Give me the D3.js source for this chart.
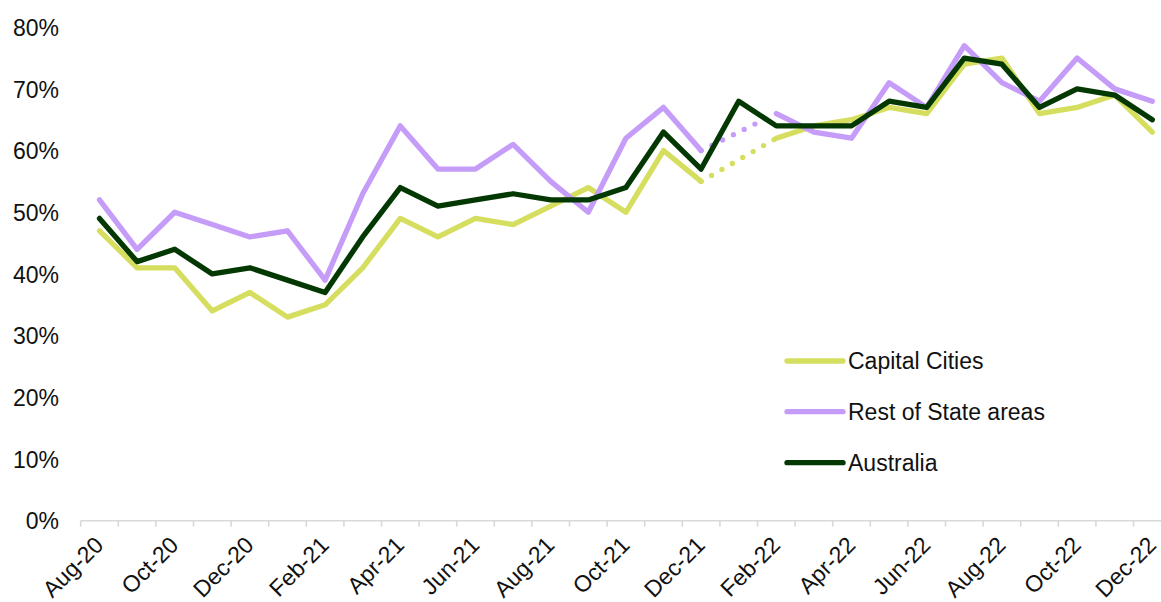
<!DOCTYPE html>
<html>
<head>
<meta charset="utf-8">
<script src="https://cdn.jsdelivr.net/npm/d3@7"></script>
<style>
  html, body { margin: 0; padding: 0; background: #fff; }
  svg { display: block; font-family: "Liberation Sans", Arial, sans-serif; }
</style>
</head>
<body>
<svg id="chart" width="1161" height="602"></svg>
<script>
// Monthly categories, Aug-20 to Dec-22
const months = ["Aug-20","Sep-20","Oct-20","Nov-20","Dec-20","Jan-21","Feb-21","Mar-21","Apr-21","May-21",
  "Jun-21","Jul-21","Aug-21","Sep-21","Oct-21","Nov-21","Dec-21","Jan-22","Feb-22","Mar-22",
  "Apr-22","May-22","Jun-22","Jul-22","Aug-22","Sep-22","Oct-22","Nov-22","Dec-22"];

// Shares in percent; null = no reading for that month
const capitalCities = [47,41,41,34,37,33,35,41,49,46,49,48,51,54,50,60,55,null,62,64,65,67,66,74,75,66,67,69,63];
const restOfState   = [52,44,50,48,46,47,39,53,64,57,57,61,55,50,62,67,60,null,66,63,62,71,67,77,71,68,75,70,68];
const australia     = [49,42,44,40,41,39,37,46,54,51,52,53,52,52,54,63,57,68,64,64,64,68,67,75,74,67,70,69,65];

const yTicks = [0,10,20,30,40,50,60,70,80];
const labelledMonths = months.filter((m, i) => i % 2 === 0);

const seriesNames  = ["Capital Cities", "Rest of State areas", "Australia"];
const seriesColors = ["#D5DE5E", "#C69CF9", "#033803"];

const series = [capitalCities, restOfState, australia].map((vals, i) => ({
  name: seriesNames[i],
  color: seriesColors[i],
  values: vals.map((v, j) => ({ month: months[j], value: v }))
}));

const svg = d3.select("#chart");
const FONT = 23;
const LINE_W = 5.3;

const x = d3.scaleBand().domain(months).range([80.7, 80.7 + 29 * 37.6]).padding(0);
const cx = m => x(m) + x.bandwidth() / 2;
const y = d3.scaleLinear().domain([0, 80]).range([520.7, 27.2]);

// Y axis: labels only
const yAxis = d3.axisLeft(y).tickValues(yTicks).tickSize(0).tickPadding(0)
  .tickFormat(d => d + "%");
svg.append("g")
  .attr("transform", "translate(59,0)")
  .call(yAxis)
  .call(g => g.select(".domain").remove())
  .call(g => g.selectAll("text")
    .attr("font-size", FONT)
    .attr("font-family", "Liberation Sans, Arial, sans-serif")
    .attr("fill", "#111")
    .attr("dy", "0.36em"));

// X axis line with boundary ticks between months
const xAxisG = svg.append("g");
const [x0, x1] = x.range();
xAxisG.append("line")
  .attr("x1", x0).attr("x2", x1)
  .attr("y1", y(0)).attr("y2", y(0))
  .attr("stroke", "#D9D9D9").attr("stroke-width", 1.6);
const boundaries = months.map(m => x(m)).concat([x1]);
xAxisG.selectAll("line.tick")
  .data(boundaries)
  .join("line")
  .attr("class", "tick")
  .attr("x1", d => d).attr("x2", d => d)
  .attr("y1", y(0)).attr("y2", y(0) + 6)
  .attr("stroke", "#D9D9D9").attr("stroke-width", 1.6);

xAxisG.selectAll("text")
  .data(labelledMonths)
  .join("text")
  .attr("transform", d => `translate(${cx(d) - 0.5},${y(0) + 20}) rotate(-45)`)
  .attr("text-anchor", "end")
  .attr("dy", "0.35em")
  .attr("font-size", FONT)
  .attr("fill", "#111")
  .text(d => d);

// Series lines
const line = d3.line()
  .defined(d => d.value != null)
  .x(d => cx(d.month))
  .y(d => y(d.value));

const plot = svg.append("g");

series.forEach(s => {
  // dotted bridge across missing months
  const vals = s.values;
  for (let i = 1; i < vals.length - 1; i++) {
    if (vals[i].value == null && vals[i - 1].value != null) {
      let j = i;
      while (j < vals.length && vals[j].value == null) j++;
      if (j < vals.length) {
        plot.append("path")
          .datum([vals[i - 1], vals[j]])
          .attr("d", line)
          .attr("fill", "none")
          .attr("stroke", s.color)
          .attr("stroke-width", LINE_W)
          .attr("stroke-linecap", "round")
          .attr("stroke-dasharray", "0 12");
      }
    }
  }
  plot.append("path")
    .datum(vals)
    .attr("d", line)
    .attr("fill", "none")
    .attr("stroke", s.color)
    .attr("stroke-width", LINE_W)
    .attr("stroke-linejoin", "round")
    .attr("stroke-linecap", "round");
});

// Legend
const legend = svg.append("g");
const legendY = [361, 411.7, 462.7];
series.forEach((s, i) => {
  legend.append("line")
    .attr("x1", 787).attr("x2", 843)
    .attr("y1", legendY[i]).attr("y2", legendY[i])
    .attr("stroke", s.color).attr("stroke-width", LINE_W)
    .attr("stroke-linecap", "round");
  legend.append("text")
    .attr("x", 848).attr("y", legendY[i])
    .attr("dy", "0.35em")
    .attr("font-size", FONT)
    .attr("fill", "#111")
    .text(s.name);
});
</script>
</body>
</html>
